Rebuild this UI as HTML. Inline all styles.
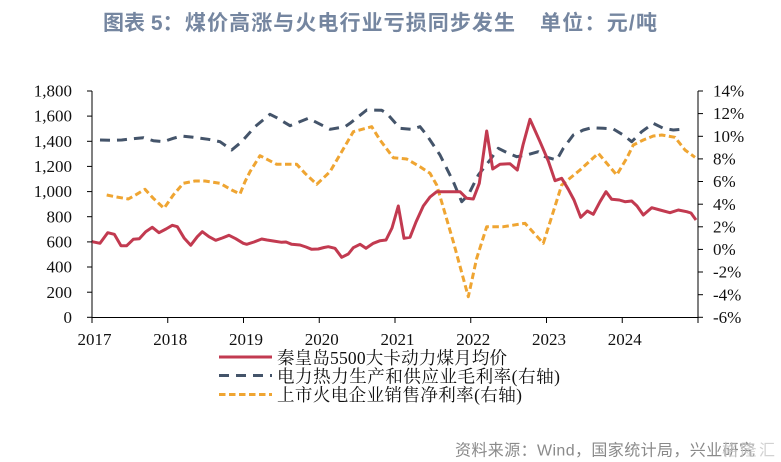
<!DOCTYPE html>
<html>
<head>
<meta charset="utf-8">
<style>
  html, body { margin:0; padding:0; background:#ffffff; }
  body { width:781px; height:462px; overflow:hidden; }
  svg { display:block; }
  .tick { font-family:"Liberation Serif", "Noto Serif CJK SC", serif; font-size:17px; fill:#111; }
  .leg { font-family:"Liberation Serif", "Noto Serif CJK SC", serif; font-size:17.5px; fill:#111; }
  .title { font-family:"Liberation Sans", "Noto Sans CJK SC", sans-serif; font-size:21px; font-weight:bold; fill:#7586a0; }
  .foot { font-family:"Liberation Sans", "Noto Sans CJK SC", sans-serif; font-size:16px; fill:#8a8a8a; }
</style>
</head>
<body>
<svg width="781" height="462" viewBox="0 0 781 462" xmlns="http://www.w3.org/2000/svg">
  <rect x="0" y="0" width="781" height="462" fill="#ffffff"/>

  <!-- Title -->
  <text class="title" x="103" y="30">图表 5：</text>
  <text class="title" x="185" y="30" textLength="330" lengthAdjust="spacing">煤价高涨与火电行业亏损同步发生</text>
  <text class="title" x="540" y="30" textLength="117" lengthAdjust="spacing">单位：元/吨</text>

  <!-- Axes -->
  <g stroke="#000" stroke-width="1" fill="none">
    <line x1="92" y1="91" x2="92" y2="317.5"/>
    <line x1="698" y1="91" x2="698" y2="317.5"/>
    <line x1="92" y1="317.5" x2="698" y2="317.5"/>
    <!-- left ticks -->
    <line x1="87" y1="91" x2="92" y2="91"/>
    <line x1="87" y1="116.1" x2="92" y2="116.1"/>
    <line x1="87" y1="141.3" x2="92" y2="141.3"/>
    <line x1="87" y1="166.4" x2="92" y2="166.4"/>
    <line x1="87" y1="191.6" x2="92" y2="191.6"/>
    <line x1="87" y1="216.7" x2="92" y2="216.7"/>
    <line x1="87" y1="241.9" x2="92" y2="241.9"/>
    <line x1="87" y1="267.0" x2="92" y2="267.0"/>
    <line x1="87" y1="292.2" x2="92" y2="292.2"/>
    <line x1="87" y1="317.3" x2="92" y2="317.3"/>
    <!-- right ticks -->
    <line x1="698" y1="91" x2="703" y2="91"/>
    <line x1="698" y1="113.6" x2="703" y2="113.6"/>
    <line x1="698" y1="136.3" x2="703" y2="136.3"/>
    <line x1="698" y1="158.9" x2="703" y2="158.9"/>
    <line x1="698" y1="181.5" x2="703" y2="181.5"/>
    <line x1="698" y1="204.2" x2="703" y2="204.2"/>
    <line x1="698" y1="226.8" x2="703" y2="226.8"/>
    <line x1="698" y1="249.4" x2="703" y2="249.4"/>
    <line x1="698" y1="272.0" x2="703" y2="272.0"/>
    <line x1="698" y1="294.7" x2="703" y2="294.7"/>
    <line x1="698" y1="317.3" x2="703" y2="317.3"/>
    <!-- x ticks -->
    <line x1="92" y1="317.5" x2="92" y2="323"/>
    <line x1="167.75" y1="317.5" x2="167.75" y2="323"/>
    <line x1="243.5" y1="317.5" x2="243.5" y2="323"/>
    <line x1="319.25" y1="317.5" x2="319.25" y2="323"/>
    <line x1="395" y1="317.5" x2="395" y2="323"/>
    <line x1="470.75" y1="317.5" x2="470.75" y2="323"/>
    <line x1="546.5" y1="317.5" x2="546.5" y2="323"/>
    <line x1="622.25" y1="317.5" x2="622.25" y2="323"/>
    <line x1="698" y1="317.5" x2="698" y2="323"/>
  </g>

  <!-- Left labels -->
  <g class="tick" text-anchor="end">
    <text x="72" y="96.6">1,800</text>
    <text x="72" y="121.7">1,600</text>
    <text x="72" y="146.9">1,400</text>
    <text x="72" y="172.0">1,200</text>
    <text x="72" y="197.2">1,000</text>
    <text x="72" y="222.3">800</text>
    <text x="72" y="247.5">600</text>
    <text x="72" y="272.6">400</text>
    <text x="72" y="297.8">200</text>
    <text x="72" y="322.9">0</text>
  </g>

  <!-- Right labels -->
  <g class="tick" text-anchor="start">
    <text x="713" y="96.6">14%</text>
    <text x="713" y="119.2">12%</text>
    <text x="713" y="141.9">10%</text>
    <text x="713" y="164.5">8%</text>
    <text x="713" y="187.1">6%</text>
    <text x="713" y="209.8">4%</text>
    <text x="713" y="232.4">2%</text>
    <text x="713" y="255.0">0%</text>
    <text x="713" y="277.6">-2%</text>
    <text x="713" y="300.3">-4%</text>
    <text x="713" y="322.9">-6%</text>
  </g>

  <!-- Year labels -->
  <g class="tick" text-anchor="middle">
    <text x="94.5" y="345">2017</text>
    <text x="170.25" y="345">2018</text>
    <text x="246" y="345">2019</text>
    <text x="321.75" y="345">2020</text>
    <text x="397.5" y="345">2021</text>
    <text x="473.25" y="345">2022</text>
    <text x="549" y="345">2023</text>
    <text x="624.75" y="345">2024</text>
  </g>

  <!-- Orange dashed: 上市火电企业销售净利率 -->
  <polyline fill="none" stroke="#efa532" stroke-width="3" stroke-dasharray="6.5,3.5" stroke-linejoin="round"
    points="106.7,195 115,196.7 128.3,199 136.7,194.3 145,189.3 153.3,198.3 164,208.3 173.3,195 183.3,183.3 195,181 205,181 220,183.3 231.7,190 240,194 245,181.7 250,171.7 260,155.7 276.7,164.3 296.7,164.3 305,173.3 316.7,184.3 330,171.7 341.7,151.7 353.3,131.7 371.7,126.7 380,140 393.3,157.7 406.7,159 420,166.7 430,173.3 436.7,185 453.3,241.7 468.3,296.7 476.7,258.3 486.7,226.7 503.3,226.7 525,223.3 543.3,243.3 553.3,211.7 561.7,185 580,170 598.3,153.3 616.7,175 626.7,158.3 633.3,145 643.3,140 653.3,136 661.7,135 675,137.3 685,150 695,157.3"/>

  <!-- Navy dashed: 电力热力生产和供应业毛利率 -->
  <polyline fill="none" stroke="#44546a" stroke-width="3" stroke-dasharray="10,7" stroke-linejoin="round"
    points="100,140 110,140.3 121.7,140 133.3,138.7 143.3,137.7 153.3,140.7 163.3,141.7 173.3,138.3 181.7,136 193.3,137.3 208.3,139.3 220,141.7 231.7,150 241.7,141.7 255,126.7 270,114.3 276.7,117.7 290,125.7 308.3,118.3 318.3,123.3 330,129.3 345,126.7 350,123.3 366.7,110 381.7,110.3 386.7,113.3 400,128.3 411.7,129.3 420,126.7 426.7,135 440,155 453.3,181.7 461.7,201.7 468.3,195 478.3,175 490,160 498.3,148.3 508.3,153.3 516.7,156.7 526.7,155 538.3,151.7 545,156.7 556.7,160 563.3,148.3 573.3,135 583.3,130 591.7,127.7 603.3,128.3 613.3,129 623.3,135 631.7,141.7 641.7,131.7 653.3,123.3 663.3,128.3 673.3,130 685,129"/>

  <!-- Red solid: 秦皇岛5500大卡动力煤月均价 -->
  <polyline fill="none" stroke="#c23a50" stroke-width="3" stroke-linejoin="round"
    points="92.3,241.7 100,243.3 107.7,232.7 114.3,234.3 121,245.7 126.7,245.7 133.3,239.3 139.3,238.7 145.7,231.7 152.3,227.3 159,232.7 166,229 172.3,225.3 177.3,226.7 184.3,238.3 190.7,245.3 197.3,236.7 202.3,231.7 209,236.7 215.7,240.3 222.3,238 229,235.3 235.7,238.7 243.3,243.3 246.7,244.3 254,242 261.7,239 267,240 273.3,241 281.7,242.3 286,242 291.7,244.3 300,245 306,247 311.7,249.3 318.3,249 324,247.5 328.3,246.7 335,248.3 341.7,257.3 348.3,254 353.3,247.7 360,244.3 366,248.3 373.3,243.3 380,240.7 386,240 392,228 398.3,206 404,238.3 410,237.3 416,222 423.3,206 430,197 436.7,191.7 460,191.7 466.7,198.3 473.3,199 479.3,183.3 486.7,131 492.7,169 500,164.3 510,163.7 517.3,170 523,145 530,119.3 540,141.7 548.3,161 555,180.7 561.7,178.3 568.3,189.3 574,200 580.7,217.3 587.3,211 593.3,214.3 600,201.7 606,191.7 611.7,199.3 619.3,200 625,201.7 631.7,201 637,206 643.3,215 651.7,207.7 660,210 670,212.7 678.3,210 686.7,211.7 691,213 696,220"/>

  <!-- Legend -->
  <line x1="219" y1="357" x2="272" y2="357" stroke="#c23a50" stroke-width="3"/>
  <line x1="219" y1="375.5" x2="272" y2="375.5" stroke="#44546a" stroke-width="3" stroke-dasharray="10,7"/>
  <line x1="219" y1="394.5" x2="272" y2="394.5" stroke="#efa532" stroke-width="3" stroke-dasharray="6.5,3.5"/>
  <text class="leg" x="277" y="364" textLength="230" lengthAdjust="spacing">秦皇岛5500大卡动力煤月均价</text>
  <text class="leg" x="277" y="382.5" textLength="283" lengthAdjust="spacing">电力热力生产和供应业毛利率(右轴)</text>
  <text class="leg" x="277" y="401" textLength="245" lengthAdjust="spacing">上市火电企业销售净利率(右轴)</text>

  <!-- Footer -->
  <text class="foot" x="455" y="455.5" textLength="300" lengthAdjust="spacing">资料来源：Wind，国家统计局，兴业研究</text>
  <text class="foot" x="722" y="455.5" style="fill:#c8c8c8;opacity:0.8" textLength="53" lengthAdjust="spacing">格隆汇</text>
</svg>
</body>
</html>
